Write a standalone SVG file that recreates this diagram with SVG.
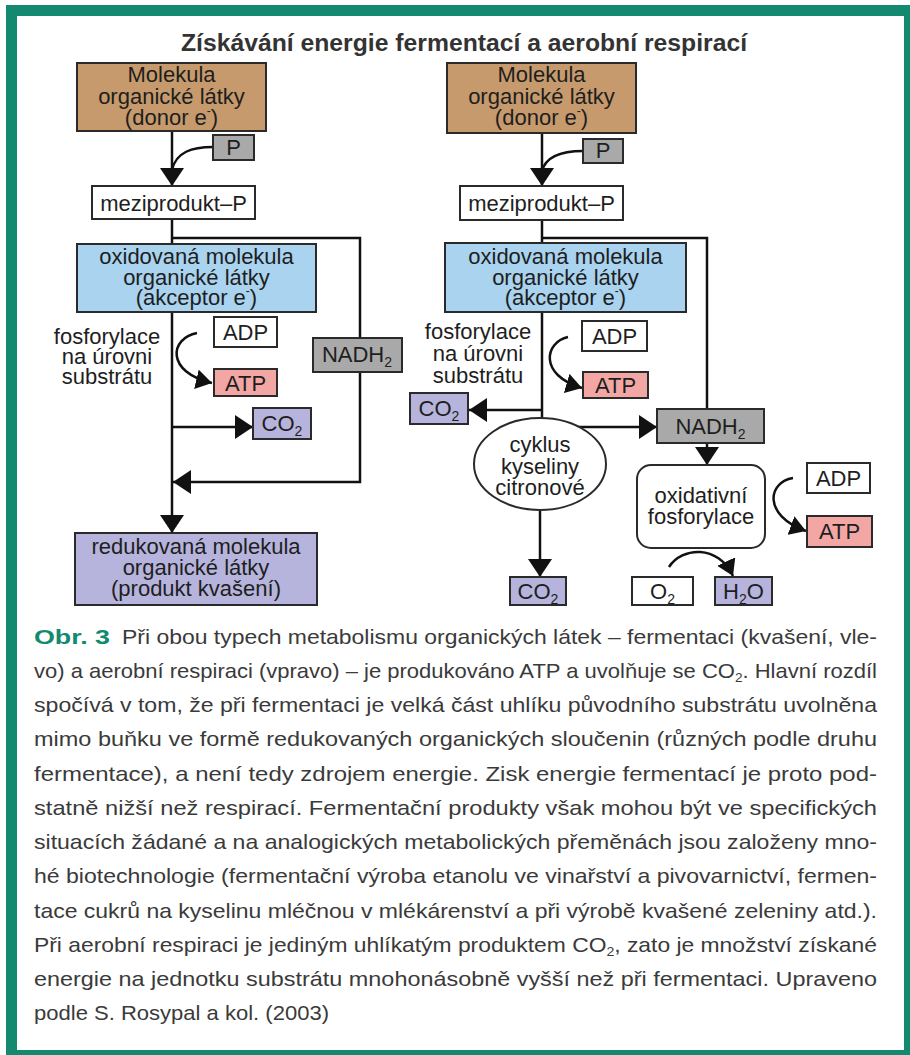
<svg xmlns="http://www.w3.org/2000/svg" width="910" height="1055" viewBox="0 0 910 1055">
<defs>
<style>
.bx{stroke:#2a2a2a;stroke-width:2}
.t{font-family:"Liberation Sans",Arial,sans-serif;font-size:22px;fill:#1e1e1e;text-anchor:middle}
.sb{font-size:14px}
.c{stroke:#111;stroke-width:2.5;fill:none}
.cap{font-family:"Liberation Sans Narrow","Liberation Sans",Arial,sans-serif;font-size:21px;fill:#3a3a3a}
.brown{fill:#c69a6c}.blue{fill:#a9d3ee}.gray{fill:#a9a9a9}.pink{fill:#f3a7a5}.lav{fill:#b6b4dc}.wh{fill:#fff}
</style>
<marker id="ah" viewBox="0 0 18 24" refX="18" refY="12" markerWidth="18" markerHeight="24" markerUnits="userSpaceOnUse" orient="auto"><path d="M0,0 L18,12 L0,24 z" fill="#111"/></marker>
<marker id="as" viewBox="0 0 16 20" refX="16" refY="10" markerWidth="16" markerHeight="20" markerUnits="userSpaceOnUse" orient="auto"><path d="M0,0 L16,10 L0,20 z" fill="#111"/></marker>
</defs>
<rect x="6" y="5" width="910" height="1060" fill="#138a70"/>
<rect x="17" y="16" width="887" height="1034" fill="#ffffff"/>
<text x="464" y="51" font-family="Liberation Sans,Arial,sans-serif" font-size="23" font-weight="bold" fill="#333" text-anchor="middle" textLength="566" lengthAdjust="spacingAndGlyphs">Získávání energie fermentací a aerobní respirací</text>

<g id="connectors">
<path class="c" d="M172,131 V186" marker-end="url(#ah)"/>
<path class="c" d="M213,147 C192,147 176,152 172,170"/>
<path class="c" d="M172,219 V533" marker-end="url(#ah)"/>
<path class="c" d="M172,238 H360 V482 H173" marker-end="url(#ah)"/>
<path class="c" d="M172,427 H253" marker-end="url(#ah)"/>
<path class="c" d="M197,333 C170,338 165,372 212,383" marker-end="url(#as)"/>
<path class="c" d="M542,133 V186" marker-end="url(#ah)"/>
<path class="c" d="M583,151 C562,151 546,156 542,171"/>
<path class="c" d="M542,220 V420"/>
<path class="c" d="M542,238 H707 V409"/>
<path class="c" d="M542,410 H469" marker-end="url(#ah)"/>
<path class="c" d="M542,427 H657" marker-end="url(#ah)"/>
<path class="c" d="M540,510 V577" marker-end="url(#ah)"/>
<path class="c" d="M707,443 V465" marker-end="url(#ah)"/>
<path class="c" d="M568,337 C545,342 538,375 582,388" marker-end="url(#as)"/>
<path class="c" d="M793,478 C768,482 762,515 806,531" marker-end="url(#as)"/>
<path class="c" d="M669,567 C682,547 718,544 733,576" marker-end="url(#as)"/>
</g>

<g id="brown1"><rect class="bx brown" x="77" y="63" width="189" height="68"/>
<text class="t" x="171.5" y="82">Molekula</text><text class="t" x="171.5" y="104">organické látky</text><text class="t" x="171.5" y="125">(donor e<tspan font-size="12" dy="-10">-</tspan><tspan dy="10">)</tspan></text></g>
<g id="p1"><rect class="bx gray" x="213" y="135" width="41" height="25"/><text class="t" x="233.5" y="155">P</text></g>
<g id="mezi1"><rect class="bx wh" x="92" y="186" width="163" height="33"/><text class="t" x="173.5" y="211">meziprodukt–P</text></g>
<g id="blue1"><rect class="bx blue" x="77" y="244" width="239" height="68"/>
<text class="t" x="196.5" y="264">oxidovaná molekula</text><text class="t" x="196.5" y="285">organické látky</text><text class="t" x="196.5" y="305">(akceptor e<tspan font-size="12" dy="-10">-</tspan><tspan dy="10">)</tspan></text></g>
<g id="fosfo1"><text class="t" x="107" y="344">fosforylace</text><text class="t" x="107" y="364">na úrovni</text><text class="t" x="107" y="384">substrátu</text></g>
<g id="adp1"><rect class="bx wh" x="214" y="317" width="63" height="30"/><text class="t" x="245.5" y="340">ADP</text></g>
<g id="atp1"><rect class="bx pink" x="214" y="369" width="63" height="27"/><text class="t" x="245.5" y="391">ATP</text></g>
<g id="nadh1"><rect class="bx gray" x="313" y="338" width="89" height="34"/><text class="t" x="357" y="362">NADH<tspan class="sb" dy="5">2</tspan></text></g>
<g id="co2a"><rect class="bx lav" x="253" y="408" width="58" height="31"/><text class="t" x="282" y="431">CO<tspan class="sb" dy="5">2</tspan></text></g>
<g id="reduk"><rect class="bx lav" x="75" y="533" width="242" height="72"/>
<text class="t" x="196" y="554">redukovaná molekula</text><text class="t" x="196" y="575">organické látky</text><text class="t" x="196" y="596">(produkt kvašení)</text></g>

<g id="brown2"><rect class="bx brown" x="447" y="63" width="189" height="70"/>
<text class="t" x="541.5" y="82">Molekula</text><text class="t" x="541.5" y="104">organické látky</text><text class="t" x="541.5" y="125">(donor e<tspan font-size="12" dy="-10">-</tspan><tspan dy="10">)</tspan></text></g>
<g id="p2"><rect class="bx gray" x="583" y="139" width="40" height="24"/><text class="t" x="603" y="158">P</text></g>
<g id="mezi2"><rect class="bx wh" x="460" y="186" width="163" height="34"/><text class="t" x="541.5" y="211">meziprodukt–P</text></g>
<g id="blue2"><rect class="bx blue" x="445" y="243" width="241" height="69"/>
<text class="t" x="565.5" y="264">oxidovaná molekula</text><text class="t" x="565.5" y="285">organické látky</text><text class="t" x="565.5" y="305">(akceptor e<tspan font-size="12" dy="-10">-</tspan><tspan dy="10">)</tspan></text></g>
<g id="fosfo2"><text class="t" x="478" y="339">fosforylace</text><text class="t" x="478" y="361">na úrovni</text><text class="t" x="478" y="383">substrátu</text></g>
<g id="adp2"><rect class="bx wh" x="582" y="321" width="65" height="30"/><text class="t" x="614.5" y="344">ADP</text></g>
<g id="atp2"><rect class="bx pink" x="583" y="372" width="65" height="26"/><text class="t" x="615.5" y="393">ATP</text></g>
<g id="co2b"><rect class="bx lav" x="410" y="393" width="58" height="31"/><text class="t" x="439" y="416">CO<tspan class="sb" dy="5">2</tspan></text></g>
<g id="nadh2"><rect class="bx gray" x="657" y="409" width="107" height="34"/><text class="t" x="710.5" y="434">NADH<tspan class="sb" dy="5">2</tspan></text></g>
<g id="krebs"><ellipse class="bx wh" cx="540" cy="464" rx="66" ry="46"/>
<text class="t" x="540" y="452">cyklus</text><text class="t" x="540" y="474">kyseliny</text><text class="t" x="540" y="495">citronové</text></g>
<g id="co2c"><rect class="bx lav" x="510" y="577" width="56" height="28"/><text class="t" x="538" y="599">CO<tspan class="sb" dy="5">2</tspan></text></g>
<g id="oxfos"><rect class="bx wh" x="637" y="465" width="128" height="83" rx="14"/>
<text class="t" x="701" y="503">oxidativní</text><text class="t" x="701" y="524">fosforylace</text></g>
<g id="adp3"><rect class="bx wh" x="807" y="463" width="63" height="30"/><text class="t" x="838.5" y="486">ADP</text></g>
<g id="atp3"><rect class="bx pink" x="807" y="516" width="65" height="31"/><text class="t" x="839.5" y="539">ATP</text></g>
<g id="o2"><rect class="bx wh" x="632" y="577" width="61" height="28"/><text class="t" x="662.5" y="599">O<tspan class="sb" dy="5">2</tspan></text></g>
<g id="h2o"><rect class="bx lav" x="715" y="577" width="57" height="28"/><text class="t" x="743.5" y="599">H<tspan class="sb" dy="5">2</tspan><tspan dy="-5">O</tspan></text></g>

<g id="caption">
<text x="34" y="644" font-family="Liberation Sans,Arial,sans-serif" font-size="21" font-weight="bold" fill="#138a70" textLength="76" lengthAdjust="spacingAndGlyphs">Obr. 3</text>
<text class="cap" x="122" y="644" textLength="755" lengthAdjust="spacingAndGlyphs">Při obou typech metabolismu organických látek – fermentaci (kvašení, vle-</text>
<text class="cap" x="34" y="678" textLength="843" lengthAdjust="spacingAndGlyphs">vo) a aerobní respiraci (vpravo) – je produkováno ATP a uvolňuje se CO<tspan font-size="13" dy="4">2</tspan><tspan dy="-4">. Hlavní rozdíl</tspan></text>
<text class="cap" x="34" y="712" textLength="843" lengthAdjust="spacingAndGlyphs">spočívá v tom, že při fermentaci je velká část uhlíku původního substrátu uvolněna</text>
<text class="cap" x="34" y="746" textLength="843" lengthAdjust="spacingAndGlyphs">mimo buňku ve formě redukovaných organických sloučenin (různých podle druhu</text>
<text class="cap" x="34" y="781" textLength="843" lengthAdjust="spacingAndGlyphs">fermentace), a není tedy zdrojem energie. Zisk energie fermentací je proto pod-</text>
<text class="cap" x="34" y="815" textLength="843" lengthAdjust="spacingAndGlyphs">statně nižší než respirací. Fermentační produkty však mohou být ve specifických</text>
<text class="cap" x="34" y="849" textLength="843" lengthAdjust="spacingAndGlyphs">situacích žádané a na analogických metabolických přeměnách jsou založeny mno-</text>
<text class="cap" x="34" y="883" textLength="843" lengthAdjust="spacingAndGlyphs">hé biotechnologie (fermentační výroba etanolu ve vinařství a pivovarnictví, fermen-</text>
<text class="cap" x="34" y="918" textLength="843" lengthAdjust="spacingAndGlyphs">tace cukrů na kyselinu mléčnou v mlékárenství a při výrobě kvašené zeleniny atd.).</text>
<text class="cap" x="34" y="952" textLength="843" lengthAdjust="spacingAndGlyphs">Při aerobní respiraci je jediným uhlíkatým produktem CO<tspan font-size="13" dy="4">2</tspan><tspan dy="-4">, zato je množství získané</tspan></text>
<text class="cap" x="34" y="986" textLength="843" lengthAdjust="spacingAndGlyphs">energie na jednotku substrátu mnohonásobně vyšší než při fermentaci. Upraveno</text>
<text class="cap" x="34" y="1020" textLength="295" lengthAdjust="spacingAndGlyphs">podle S. Rosypal a kol. (2003)</text>
</g>
</svg>
